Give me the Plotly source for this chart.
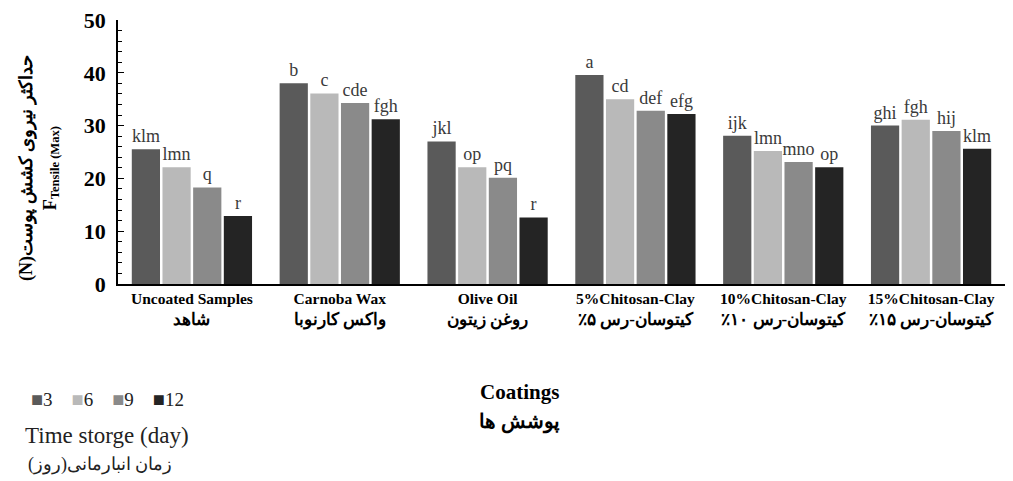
import plotly.graph_objects as go

categories_en = ["Uncoated Samples", "Carnoba Wax", "Olive Oil",
                 "5%Chitosan-Clay", "10%Chitosan-Clay", "15%Chitosan-Clay"]
categories_fa = ["شاهد", "واکس کارنوبا", "روغن زیتون",
                 "کیتوسان-رس ۵٪", "کیتوسان-رس ۱۰٪", "کیتوسان-رس ۱۵٪"]

days = ["3", "6", "9", "12"]
values = {
    "3":  [25.5, 38.0, 27.0, 39.6, 28.1, 30.0],
    "6":  [22.1, 36.1, 22.1, 35.0, 25.2, 31.1],
    "9":  [18.3, 34.3, 20.1, 32.8, 23.1, 29.0],
    "12": [12.9, 31.2, 12.6, 32.2, 22.1, 25.6],
}
letters = {
    "3":  ["klm", "b", "jkl", "a", "ijk", "ghi"],
    "6":  ["lmn", "c", "op", "cd", "lmn", "fgh"],
    "9":  ["q", "cde", "pq", "def", "mno", "hij"],
    "12": ["r", "fgh", "r", "efg", "op", "klm"],
}
colors = {"3": "#5a5a5a", "6": "#b9b9b9", "9": "#8a8a8a", "12": "#242424"}

y_ticks = [0, 10, 20, 30, 40, 50]

serif = "Liberation Serif, Times New Roman, DejaVu Serif, serif"
RLE, PDF, RLM = "\u202b", "\u202c", "\u200f"


def rtl(s):
    return RLE + s + RLM + PDF


xlabels = [f"<b>{e}</b><br><b><span style='font-size:17px'>{rtl(f)}</span></b>"
           for e, f in zip(categories_en, categories_fa)]

fig = go.Figure()
for d in days:
    fig.add_trace(go.Bar(
        x=xlabels, y=values[d], name=d,
        marker=dict(color=colors[d], line=dict(width=0)),
        text=letters[d], textposition="outside", constraintext="none",
        textfont=dict(family=serif, size=18, color="#3a3a3a"),
        cliponaxis=False,
    ))

# page body adds an 8px offset, so the figure is drawn 8px smaller
fig.update_layout(
    width=1005, height=473,
    paper_bgcolor="white", plot_bgcolor="white",
    barmode="group", bargap=0.17, bargroupgap=0.08,
    margin=dict(l=110, r=8, t=12, b=197, autoexpand=False),
    font=dict(family=serif, color="black"),
    showlegend=False,
)
fig.update_xaxes(
    showline=True, linecolor="black", linewidth=1.5, ticks="",
    tickfont=dict(family=serif, size=15.5, color="black"),
    showgrid=False,
)
fig.update_yaxes(
    range=[0, 50], showline=True, linecolor="black", linewidth=1.5,
    ticks="inside", ticklen=6, tickcolor="black", showgrid=False,
    minor=dict(dtick=2, ticks="inside", ticklen=4, tickcolor="black"),
    tickfont=dict(family=serif, size=22, color="black"),
    tickvals=y_ticks, ticktext=[f"<b>{v}</b>" for v in y_ticks],
    ticklabeloverflow="allow", ticklabelstandoff=6,
)

fig.add_annotation(
    text="<b>" + rtl("حداکثر نیروی کشش پوست(N)") + "</b><br><b>F<sub>Tensile (Max)</sub></b>",
    xref="paper", yref="paper", x=-0.089, y=0.44, xanchor="center", yanchor="middle",
    textangle=-90, showarrow=False, align="center",
    font=dict(family=serif, size=18, color="black"))

fig.add_annotation(text="<b>Coatings</b>", xref="paper", yref="paper",
                   x=0.453, y=-0.355, xanchor="center", yanchor="top", showarrow=False,
                   font=dict(family=serif, size=21, color="black"))
fig.add_annotation(text="<b>" + rtl("پوشش ها") + "</b>", xref="paper", yref="paper",
                   x=0.453, y=-0.47, xanchor="center", yanchor="top", showarrow=False,
                   font=dict(family=serif, size=20, color="black"))

legend_html = "&nbsp;&nbsp;&nbsp;&nbsp;".join(
    f"<span style='color:{colors[d]};font-size:20px'>■</span>{d}" for d in days
)
fig.add_annotation(text=legend_html, xref="paper", yref="paper",
                   x=-0.1, y=-0.385, xanchor="left", yanchor="top", showarrow=False,
                   font=dict(family=serif, size=19, color="#222"))
fig.add_annotation(text="Time storge (day)", xref="paper", yref="paper",
                   x=-0.0124, y=-0.52, xanchor="center", yanchor="top", showarrow=False,
                   font=dict(family=serif, size=23, color="#222"))
fig.add_annotation(text=rtl("زمان انبارمانی(روز)"), xref="paper", yref="paper",
                   x=-0.02, y=-0.635, xanchor="center", yanchor="top", showarrow=False,
                   font=dict(family=serif, size=18, color="#222"))

fig.write_html("out.html")
